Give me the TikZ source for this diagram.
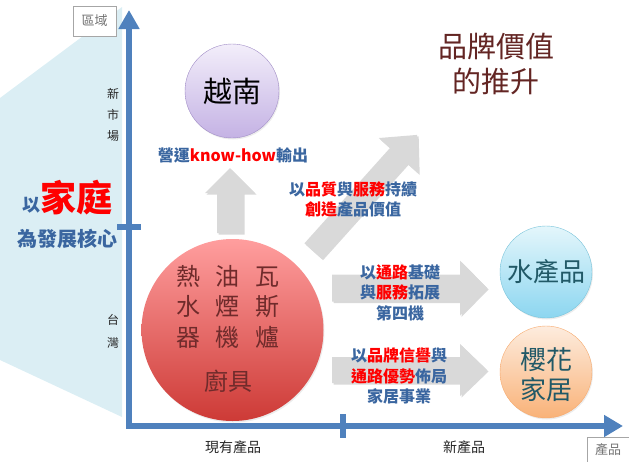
\documentclass[tikz,border=0pt]{standalone}
\usepackage{fontspec}
\setmainfont{Noto Sans CJK TC}
\usetikzlibrary{arrows.meta, shadows}
\definecolor{axisblue}{HTML}{4F81BD}
\definecolor{txtblue}{HTML}{3A66A0}
\definecolor{txtred}{HTML}{FF0000}
\definecolor{titlered}{HTML}{632523}
\definecolor{ballred}{HTML}{6F2B2B}
\definecolor{ballteal}{HTML}{215967}
\definecolor{bgblue}{HTML}{DBEEF4}
\definecolor{arrowgray}{HTML}{D9D9D9}
\definecolor{viettop}{HTML}{F3EEFA}
\definecolor{vietbot}{HTML}{C4B2E4}
\definecolor{vietline}{HTML}{A08CC6}
\definecolor{redtop}{HTML}{FF9E9E}
\definecolor{redbot}{HTML}{CD3A36}
\definecolor{watertop}{HTML}{E4F6FB}
\definecolor{waterbot}{HTML}{8CD6F0}
\definecolor{waterline}{HTML}{78C3DA}
\definecolor{sakuratop}{HTML}{FDECDE}
\definecolor{sakurabot}{HTML}{F9B278}
\definecolor{sakuraline}{HTML}{F7AA6E}
\tikzstyle{ball} = [circle, inner sep=0pt, minimum size=92pt, drop shadow={opacity=0.15, shadow xshift=1pt, shadow yshift=-1.5pt}]
\tikzstyle{gray arrow} = [fill=arrowgray, drop shadow={opacity=0.3, shadow xshift=1.5pt, shadow yshift=-1.5pt}]
\tikzstyle{axis label} = [font=\fontsize{12}{15}\selectfont, text=black!85, align=center]
\tikzstyle{box label} = [draw=black!35, fill=white, text=black!55, font=\fontsize{13}{15}\selectfont]
\tikzstyle{note} = [font=\bfseries\fontsize{16}{20.5}\selectfont, text=txtblue, align=center]
\newcommand{\grayarrow}[4]{% length, half shaft, half head, head length
  \fill[gray arrow] (0,-#2) -- ({#1-#4},-#2) -- ({#1-#4},-#3) -- (#1,0) -- ({#1-#4},#3) -- ({#1-#4},#2) -- (0,#2) -- cycle;}
\newcommand{\red}[1]{\textcolor{txtred}{#1}}

\begin{document}
\begin{tikzpicture}[x=1pt,y=-1pt]
\useasboundingbox (0,0) rectangle (629,461);
%Background wedge
\fill[bgblue] (0,98) -- (122,7) -- (122,417) -- (0,360) -- cycle;
\node[font=\bfseries, anchor=center] (home) at (67,198) {\fontsize{18}{20}\selectfont\textcolor{txtblue}{以}\fontsize{36}{40}\selectfont\textcolor{txtred}{家庭}};
\node[font=\bfseries\fontsize{20}{22}\selectfont, text=txtblue] (core) at (67,239) {為發展核心};

%Axes
\coordinate (top) at (129,10);
\coordinate (origin) at (129,426);
\coordinate (right) at (623,426);
\draw[axisblue, line width=6pt, line join=miter, {Triangle[length=19pt,width=20pt]}-{Triangle[length=19pt,width=21pt]}] (top) -- (origin) -- (right);
\draw[axisblue, line width=6pt] (117,227) -- (141,227);
\draw[axisblue, line width=6pt] (343,414) -- (343,438);
\node[box label, minimum width=43pt, minimum height=30pt] (region) at (94.5,21) {區域};
\node[box label, minimum width=50pt, minimum height=30pt, anchor=north west] (product) at (587,437) {};
\node[text=black!55, font=\fontsize{13}{15}\selectfont] (productlbl) at (608,450) {產品};
\node[axis label, font=\fontsize{12}{21}\selectfont] (newmkt) at (113,115) {新\\市\\場};
\node[axis label, font=\fontsize{12}{23}\selectfont] (taiwan) at (113,331) {台\\灣};
\node[axis label, font=\fontsize{14}{16}\selectfont] (oldprod) at (233,447) {現有產品};
\node[axis label, font=\fontsize{14}{16}\selectfont] (newprod) at (464,447) {新產品};

%Title
\node[text=titlered, font=\fontsize{29}{35}\selectfont, align=center] (title) at (496,64) {品牌價值\\的推升};

%Gray arrows
\coordinate (arrup) at (230,233);
\coordinate (arrdiag) at (313,251);
\coordinate (arrwater) at (332,288);
\coordinate (arrhome) at (332,370);
\begin{scope}[shift={(arrup)}, rotate=90] \grayarrow{65}{13}{25}{25} \end{scope}
\begin{scope}[shift={(arrdiag)}, rotate=48.1] \grayarrow{156}{11.5}{26.5}{28} \end{scope}
\begin{scope}[shift={(arrwater)}] \grayarrow{155}{13.5}{27.5}{27} \end{scope}
\begin{scope}[shift={(arrhome)}] \grayarrow{155}{13}{26}{27} \end{scope}

%Circles
\node[ball, minimum size=94pt, top color=viettop, bottom color=vietbot, draw=vietline, thin] (vietnam) at (232,91) {};
\node[font=\fontsize{29}{32}\selectfont, text=black] (vietnamlbl) at (232,91) {越南};
\node[ball, minimum size=182pt, top color=redtop, bottom color=redbot] (kitchen) at (232.5,330) {};
\node[font=\fontsize{24}{30.5}\selectfont, text=ballred, align=center] (kitchenlbl) at (228,306.5) {熱\hspace{16pt}油\hspace{16pt}瓦\\水\hspace{16pt}煙\hspace{16pt}斯\\器\hspace{16pt}機\hspace{16pt}爐};
\node[font=\fontsize{24}{28}\selectfont, text=ballred] (kitchentxt) at (228,381) {廚具};
\node[ball, minimum size=92pt, top color=watertop, bottom color=waterbot, draw=waterline, thin] (water) at (546,272) {};
\node[font=\fontsize{26}{30}\selectfont, text=ballteal] (waterlbl) at (546,272) {水產品};
\node[ball, minimum size=92pt, top color=sakuratop, bottom color=sakurabot, draw=sakuraline, thin] (sakura) at (546,372) {};
\node[font=\fontsize{26}{30}\selectfont, text=ballteal, align=center] (sakuralbl) at (546,375) {櫻花\\家居};

%Notes
\node[note] (knowhow) at (233,155) {營運\red{know-how}輸出};
\node[note] (quality) at (353,199.5) {以\red{品質}與\red{服務}持續\\\red{創造}產品價值};
\node[note] (fourth) at (400,292.5) {以\red{通路}基礎\\與\red{服務}拓展\\第四機};
\node[note] (homebiz) at (399,376) {以\red{品牌信譽}與\\\red{通路優勢}佈局\\家居事業};
\end{tikzpicture}
\end{document}
